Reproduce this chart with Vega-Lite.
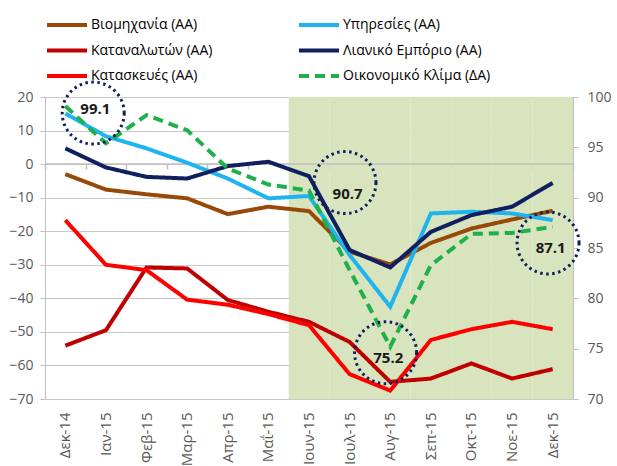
{
  "$schema": "https://vega.github.io/schema/vega-lite/v6.json",
  "width": 528,
  "height": 302,
  "autosize": {"type": "none"},
  "padding": {"left": 45, "top": 97, "right": 44, "bottom": 67},
  "background": "white",
  "config": {
    "view": {"stroke": null},
    "font": "Open Sans",
    "axis": {"labelFont": "Open Sans", "labelFontSize": 14, "labelColor": "#595959", "domainColor": "#bfbfbf", "tickColor": "#bfbfbf", "gridColor": "#c8c8c8", "title": null, "labelOverlap": false}
  },
  "datasets": {
    "left": [
      {"month": "Δεκ-14", "series": "Καταναλωτών (ΑΑ)", "value": -54.1},
      {"month": "Ιαν-15", "series": "Καταναλωτών (ΑΑ)", "value": -49.5},
      {"month": "Φεβ-15", "series": "Καταναλωτών (ΑΑ)", "value": -30.8},
      {"month": "Μαρ-15", "series": "Καταναλωτών (ΑΑ)", "value": -31.1},
      {"month": "Απρ-15", "series": "Καταναλωτών (ΑΑ)", "value": -40.5},
      {"month": "Μαΐ-15", "series": "Καταναλωτών (ΑΑ)", "value": -44.0},
      {"month": "Ιουν-15", "series": "Καταναλωτών (ΑΑ)", "value": -47.0},
      {"month": "Ιουλ-15", "series": "Καταναλωτών (ΑΑ)", "value": -53.0},
      {"month": "Αυγ-15", "series": "Καταναλωτών (ΑΑ)", "value": -64.9},
      {"month": "Σεπ-15", "series": "Καταναλωτών (ΑΑ)", "value": -63.9},
      {"month": "Οκτ-15", "series": "Καταναλωτών (ΑΑ)", "value": -59.4},
      {"month": "Νοε-15", "series": "Καταναλωτών (ΑΑ)", "value": -63.9},
      {"month": "Δεκ-15", "series": "Καταναλωτών (ΑΑ)", "value": -61.1},
      {"month": "Δεκ-14", "series": "Κατασκευές (ΑΑ)", "value": -16.7},
      {"month": "Ιαν-15", "series": "Κατασκευές (ΑΑ)", "value": -30.0},
      {"month": "Φεβ-15", "series": "Κατασκευές (ΑΑ)", "value": -31.6},
      {"month": "Μαρ-15", "series": "Κατασκευές (ΑΑ)", "value": -40.4},
      {"month": "Απρ-15", "series": "Κατασκευές (ΑΑ)", "value": -41.9},
      {"month": "Μαΐ-15", "series": "Κατασκευές (ΑΑ)", "value": -44.7},
      {"month": "Ιουν-15", "series": "Κατασκευές (ΑΑ)", "value": -48.0},
      {"month": "Ιουλ-15", "series": "Κατασκευές (ΑΑ)", "value": -62.6},
      {"month": "Αυγ-15", "series": "Κατασκευές (ΑΑ)", "value": -67.5},
      {"month": "Σεπ-15", "series": "Κατασκευές (ΑΑ)", "value": -52.4},
      {"month": "Οκτ-15", "series": "Κατασκευές (ΑΑ)", "value": -49.2},
      {"month": "Νοε-15", "series": "Κατασκευές (ΑΑ)", "value": -47.0},
      {"month": "Δεκ-15", "series": "Κατασκευές (ΑΑ)", "value": -49.2},
      {"month": "Δεκ-14", "series": "Βιομηχανία (ΑΑ)", "value": -3.0},
      {"month": "Ιαν-15", "series": "Βιομηχανία (ΑΑ)", "value": -7.6},
      {"month": "Φεβ-15", "series": "Βιομηχανία (ΑΑ)", "value": -9.0},
      {"month": "Μαρ-15", "series": "Βιομηχανία (ΑΑ)", "value": -10.2},
      {"month": "Απρ-15", "series": "Βιομηχανία (ΑΑ)", "value": -14.9},
      {"month": "Μαΐ-15", "series": "Βιομηχανία (ΑΑ)", "value": -12.7},
      {"month": "Ιουν-15", "series": "Βιομηχανία (ΑΑ)", "value": -14.0},
      {"month": "Ιουλ-15", "series": "Βιομηχανία (ΑΑ)", "value": -26.1},
      {"month": "Αυγ-15", "series": "Βιομηχανία (ΑΑ)", "value": -29.9},
      {"month": "Σεπ-15", "series": "Βιομηχανία (ΑΑ)", "value": -23.5},
      {"month": "Οκτ-15", "series": "Βιομηχανία (ΑΑ)", "value": -19.2},
      {"month": "Νοε-15", "series": "Βιομηχανία (ΑΑ)", "value": -16.5},
      {"month": "Δεκ-15", "series": "Βιομηχανία (ΑΑ)", "value": -13.9},
      {"month": "Δεκ-14", "series": "Υπηρεσίες (ΑΑ)", "value": 15.1},
      {"month": "Ιαν-15", "series": "Υπηρεσίες (ΑΑ)", "value": 8.3},
      {"month": "Φεβ-15", "series": "Υπηρεσίες (ΑΑ)", "value": 4.7},
      {"month": "Μαρ-15", "series": "Υπηρεσίες (ΑΑ)", "value": 0.4},
      {"month": "Απρ-15", "series": "Υπηρεσίες (ΑΑ)", "value": -4.3},
      {"month": "Μαΐ-15", "series": "Υπηρεσίες (ΑΑ)", "value": -10.2},
      {"month": "Ιουν-15", "series": "Υπηρεσίες (ΑΑ)", "value": -9.5},
      {"month": "Ιουλ-15", "series": "Υπηρεσίες (ΑΑ)", "value": -27.1},
      {"month": "Αυγ-15", "series": "Υπηρεσίες (ΑΑ)", "value": -42.5},
      {"month": "Σεπ-15", "series": "Υπηρεσίες (ΑΑ)", "value": -14.7},
      {"month": "Οκτ-15", "series": "Υπηρεσίες (ΑΑ)", "value": -14.2},
      {"month": "Νοε-15", "series": "Υπηρεσίες (ΑΑ)", "value": -14.7},
      {"month": "Δεκ-15", "series": "Υπηρεσίες (ΑΑ)", "value": -16.7},
      {"month": "Δεκ-14", "series": "Λιανικό Εμπόριο (ΑΑ)", "value": 4.7},
      {"month": "Ιαν-15", "series": "Λιανικό Εμπόριο (ΑΑ)", "value": -1.0},
      {"month": "Φεβ-15", "series": "Λιανικό Εμπόριο (ΑΑ)", "value": -3.8},
      {"month": "Μαρ-15", "series": "Λιανικό Εμπόριο (ΑΑ)", "value": -4.3},
      {"month": "Απρ-15", "series": "Λιανικό Εμπόριο (ΑΑ)", "value": -0.6},
      {"month": "Μαΐ-15", "series": "Λιανικό Εμπόριο (ΑΑ)", "value": 0.7},
      {"month": "Ιουν-15", "series": "Λιανικό Εμπόριο (ΑΑ)", "value": -3.6},
      {"month": "Ιουλ-15", "series": "Λιανικό Εμπόριο (ΑΑ)", "value": -25.6},
      {"month": "Αυγ-15", "series": "Λιανικό Εμπόριο (ΑΑ)", "value": -30.8},
      {"month": "Σεπ-15", "series": "Λιανικό Εμπόριο (ΑΑ)", "value": -20.2},
      {"month": "Οκτ-15", "series": "Λιανικό Εμπόριο (ΑΑ)", "value": -15.2},
      {"month": "Νοε-15", "series": "Λιανικό Εμπόριο (ΑΑ)", "value": -12.7},
      {"month": "Δεκ-15", "series": "Λιανικό Εμπόριο (ΑΑ)", "value": -5.6}
    ],
    "right": [
      {"month": "Δεκ-14", "series": "Οικονομικό Κλίμα (ΔΑ)", "value": 99.1},
      {"month": "Ιαν-15", "series": "Οικονομικό Κλίμα (ΔΑ)", "value": 95.4},
      {"month": "Φεβ-15", "series": "Οικονομικό Κλίμα (ΔΑ)", "value": 98.2},
      {"month": "Μαρ-15", "series": "Οικονομικό Κλίμα (ΔΑ)", "value": 96.7},
      {"month": "Απρ-15", "series": "Οικονομικό Κλίμα (ΔΑ)", "value": 92.9},
      {"month": "Μαΐ-15", "series": "Οικονομικό Κλίμα (ΔΑ)", "value": 91.3},
      {"month": "Ιουν-15", "series": "Οικονομικό Κλίμα (ΔΑ)", "value": 90.7},
      {"month": "Ιουλ-15", "series": "Οικονομικό Κλίμα (ΔΑ)", "value": 82.8},
      {"month": "Αυγ-15", "series": "Οικονομικό Κλίμα (ΔΑ)", "value": 75.2},
      {"month": "Σεπ-15", "series": "Οικονομικό Κλίμα (ΔΑ)", "value": 83.3},
      {"month": "Οκτ-15", "series": "Οικονομικό Κλίμα (ΔΑ)", "value": 86.4},
      {"month": "Νοε-15", "series": "Οικονομικό Κλίμα (ΔΑ)", "value": 86.5},
      {"month": "Δεκ-15", "series": "Οικονομικό Κλίμα (ΔΑ)", "value": 87.1}
    ],
    "shade": [
      {"month": "Ιουν-15"}, {"month": "Ιουλ-15"}, {"month": "Αυγ-15"}, {"month": "Σεπ-15"},
      {"month": "Οκτ-15"}, {"month": "Νοε-15"}, {"month": "Δεκ-15"}
    ],
    "note1": [{"month": "Δεκ-14", "cy": 98.4, "ty": 98.8, "label": "99.1"}],
    "notes": [
      {"month": "Ιουλ-15", "cy": 91.5, "ty": 90.4, "label": "90.7"},
      {"month": "Αυγ-15", "cy": 74.6, "ty": 74.1, "label": "75.2"},
      {"month": "Δεκ-15", "cy": 85.5, "ty": 85.0, "label": "87.1"}
    ],
    "zero": [{"value": 0}]
  },
  "resolve": {"scale": {"y": "independent"}, "axis": {"x": "independent"}},
  "layer": [
    {
      "data": {"name": "shade"},
      "mark": {"type": "rect", "color": "#d7e4bd"},
      "encoding": {
        "x": {"field": "month", "type": "ordinal", "sort": null,
          "scale": {"type": "band", "paddingInner": 0, "paddingOuter": 0, "domain": ["Δεκ-14","Ιαν-15","Φεβ-15","Μαρ-15","Απρ-15","Μαΐ-15","Ιουν-15","Ιουλ-15","Αυγ-15","Σεπ-15","Οκτ-15","Νοε-15","Δεκ-15"]},
          "axis": {"labelAngle": -90, "ticks": false, "domain": false, "labelPadding": 13, "labelFontSize": 15}}
      }
    },
    {
      "encoding": {
        "x": {"field": "month", "type": "ordinal", "sort": null,
          "scale": {"type": "band", "paddingInner": 0, "paddingOuter": 0, "domain": ["Δεκ-14","Ιαν-15","Φεβ-15","Μαρ-15","Απρ-15","Μαΐ-15","Ιουν-15","Ιουλ-15","Αυγ-15","Σεπ-15","Οκτ-15","Νοε-15","Δεκ-15"]},
          "axis": {"orient": "bottom", "offset": -235, "labels": false, "domain": false, "ticks": true, "tickBand": "extent", "tickSize": 5, "tickColor": "#bfbfbf", "tickWidth": 1.5}},
        "y": {"field": "value", "type": "quantitative",
          "scale": {"domain": [-70, 20], "nice": false},
          "axis": {"orient": "left", "values": [20,10,0,-10,-20,-30,-40,-50,-60,-70], "labelOverlap": false, "grid": true, "tickSize": 5, "labelPadding": 7, "domain": true}}
      },
      "layer": [
        {
          "data": {"name": "zero"},
          "mark": {"type": "rule", "color": "#bfbfbf", "strokeWidth": 1.5},
          "encoding": {"x": null}
        },
        {
          "data": {"name": "left"},
          "mark": {"type": "line", "strokeWidth": 4},
          "encoding": {
            "color": {"field": "series", "type": "nominal",
              "scale": {"domain": ["Βιομηχανία (ΑΑ)", "Καταναλωτών (ΑΑ)", "Κατασκευές (ΑΑ)", "Υπηρεσίες (ΑΑ)", "Λιανικό Εμπόριο (ΑΑ)", "Οικονομικό Κλίμα (ΔΑ)"],
                "range": ["#984807", "#c00000", "#ff0000", "#1eb4f0", "#0f1f5f", "#1fb04c"]},
              "legend": {"orient": "none", "legendX": 10, "legendY": -84, "columns": 2, "title": null, "symbolType": "M -2 0 L 2 0", "symbolSize": 400, "symbolStrokeWidth": 4, "labelFontSize": 14, "labelFont": "Open Sans", "labelColor": "#000000", "labelOffset": 12, "rowPadding": 5.5, "columnPadding": 78, "labelLimit": 300}},
            "strokeDash": {"field": "series", "type": "nominal",
              "scale": {"domain": ["Βιομηχανία (ΑΑ)", "Καταναλωτών (ΑΑ)", "Κατασκευές (ΑΑ)", "Υπηρεσίες (ΑΑ)", "Λιανικό Εμπόριο (ΑΑ)", "Οικονομικό Κλίμα (ΔΑ)"],
                "range": [[1,0],[1,0],[1,0],[1,0],[1,0],[10,6]]}}
          }
        }
      ]
    },
    {
      "encoding": {
        "x": {"field": "month", "type": "ordinal", "sort": null,
          "scale": {"type": "band", "paddingInner": 0, "paddingOuter": 0, "domain": ["Δεκ-14","Ιαν-15","Φεβ-15","Μαρ-15","Απρ-15","Μαΐ-15","Ιουν-15","Ιουλ-15","Αυγ-15","Σεπ-15","Οκτ-15","Νοε-15","Δεκ-15"]},
          "axis": null}
      },
      "layer": [
        {
          "data": {"name": "right"},
          "mark": {"type": "line", "strokeWidth": 4},
          "encoding": {
            "y": {"field": "value", "type": "quantitative",
              "scale": {"domain": [70, 100], "nice": false},
              "axis": {"orient": "right", "values": [70,75,80,85,90,95,100], "grid": false, "tickSize": 5, "labelPadding": 9, "domain": true}},
            "color": {"field": "series", "type": "nominal"},
            "strokeDash": {"field": "series", "type": "nominal"}
          }
        },
        {
          "data": {"name": "note1"},
          "mark": {"type": "point", "shape": "M 1.9 0 A 1 1 0 1 1 -0.1 0 A 1 1 0 1 1 1.9 0 Z", "filled": false, "opacity": 1, "size": 3844, "stroke": "#0f1f5f", "strokeWidth": 3, "strokeDash": [2.5, 3.5]},
          "encoding": {"y": {"field": "cy", "type": "quantitative"}}
        },
        {
          "data": {"name": "note1"},
          "mark": {"type": "text", "font": "Open Sans", "fontSize": 15, "fontWeight": "bold", "color": "#1a1a1a", "dx": 30},
          "encoding": {"y": {"field": "ty", "type": "quantitative"}, "text": {"field": "label"}}
        },
        {
          "data": {"name": "notes"},
          "mark": {"type": "point", "shape": "M 0.85 0 A 1 1 0 1 1 -1.15 0 A 1 1 0 1 1 0.85 0 Z", "filled": false, "opacity": 1, "size": 3844, "stroke": "#0f1f5f", "strokeWidth": 3, "strokeDash": [2.5, 3.5]},
          "encoding": {"y": {"field": "cy", "type": "quantitative"}}
        },
        {
          "data": {"name": "notes"},
          "mark": {"type": "text", "font": "Open Sans", "fontSize": 15, "fontWeight": "bold", "color": "#1a1a1a", "dx": -2},
          "encoding": {"y": {"field": "ty", "type": "quantitative"}, "text": {"field": "label"}}
        }
      ]
    }
  ]
}
